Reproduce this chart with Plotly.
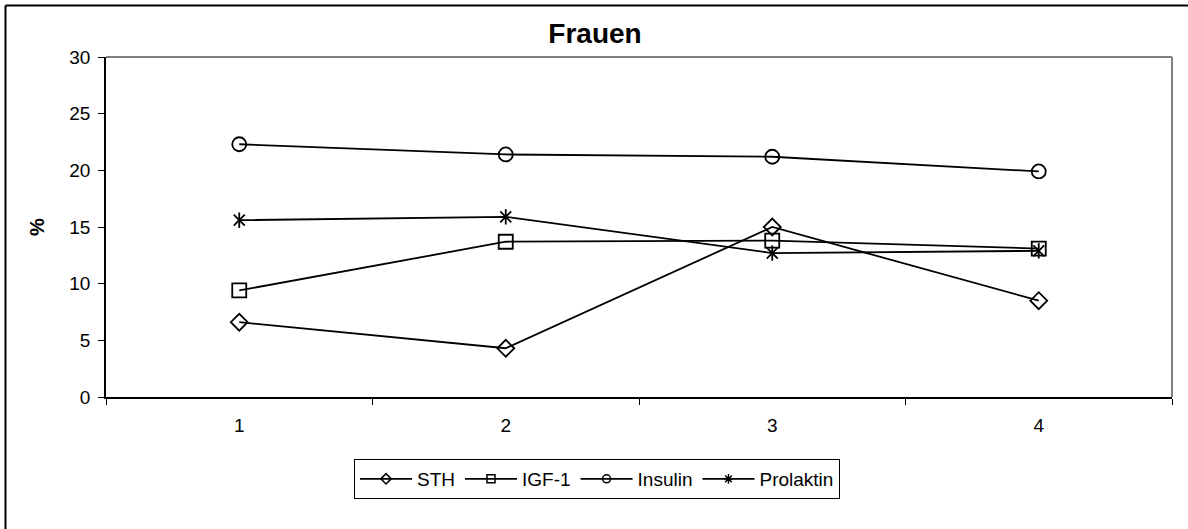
import plotly.graph_objects as go

categories = ["1", "2", "3", "4"]
sth = [6.6, 4.3, 15.0, 8.5]
igf1 = [9.4, 13.7, 13.8, 13.1]
insulin = [22.3, 21.4, 21.2, 19.9]
prolaktin = [15.6, 15.9, 12.7, 12.9]
y_ticks = [0, 5, 10, 15, 20, 25, 30]

W, H = 1188, 529
L, R, T, B = 106, 1172, 57, 397

fig = go.Figure()
line = dict(color="black", width=1.8)
mline = dict(width=1.8, color="black")

series = [
    ("STH", sth, "diamond-open", 13, "diamond-open", 8),
    ("IGF-1", igf1, "square-open", 14, "square-open", 8),
    ("Insulin", insulin, "circle-open", 14, "circle-open", 8),
    ("Prolaktin", prolaktin, "x-thin-open", 11, "asterisk-open", 8),
]

for name, vals, sym, size, lsym, lsize in series:
    fig.add_trace(go.Scatter(x=categories, y=vals, name=name, mode="lines+markers", line=line,
                             showlegend=False,
                             marker=dict(symbol=sym, size=size, color="black", line=mline)))
    if name == "Prolaktin":
        fig.add_trace(go.Scatter(x=categories, y=vals, name=name, mode="markers", showlegend=False,
                                 marker=dict(symbol="line-ns-open", size=11, color="black", line=mline)))

for name, vals, sym, size, lsym, lsize in series:
    fig.add_trace(go.Scatter(x=[None], y=[None], name=name, mode="lines+markers", line=line,
                             marker=dict(symbol=lsym, size=lsize, color="black",
                                         line=dict(width=1.5, color="black"))))

def px(x):
    return (x - L) / (R - L)

def py(y):
    return (B - y) / (B - T)

fig.update_layout(
    width=W, height=H,
    margin=dict(l=L, r=W - R, t=T, b=H - B),
    paper_bgcolor="white", plot_bgcolor="white",
    font=dict(family="Liberation Sans, Arial, sans-serif", size=19, color="black"),
    title=dict(text="<b>Frauen</b>", x=595 / W, xanchor="center",
               y=1 - 33 / H, yanchor="middle", font=dict(size=28)),
    showlegend=True,
    legend=dict(orientation="h", x=px(597), xanchor="center", y=py(459), yanchor="top",
                bordercolor="black", borderwidth=1, bgcolor="white",
                font=dict(size=19), itemwidth=52, tracegroupgap=0),
    xaxis=dict(type="category", range=[-0.5, 3.5], tickson="boundaries", ticks="outside",
               ticklen=6, tickcolor="black", showline=True, linecolor="black", linewidth=1.5,
               showgrid=False, zeroline=False, ticklabelstandoff=10),
    yaxis=dict(range=[0, 30], tickvals=y_ticks, ticks="outside", ticklen=6, tickcolor="black",
               showline=True, linecolor="black", linewidth=1.5, showgrid=False, zeroline=False,
               ticklabelstandoff=4,
               title=dict(text="<b>%</b>", font=dict(size=20), standoff=19)),
    shapes=[
        dict(type="line", xref="paper", yref="paper", x0=0, x1=1, y0=1, y1=1,
             line=dict(color="#808080", width=2)),
        dict(type="line", xref="paper", yref="paper", x0=1, x1=1, y0=0, y1=1,
             line=dict(color="#808080", width=2)),
        dict(type="line", xref="paper", yref="paper", x0=px(5.5), x1=px(5.5), y0=py(5.5), y1=py(540),
             line=dict(color="black", width=2), layer="below"),
        dict(type="line", xref="paper", yref="paper", x0=px(5.5), x1=px(1200), y0=py(5.5), y1=py(5.5),
             line=dict(color="black", width=2), layer="below"),
    ],
)

fig.write_html("out.html")
